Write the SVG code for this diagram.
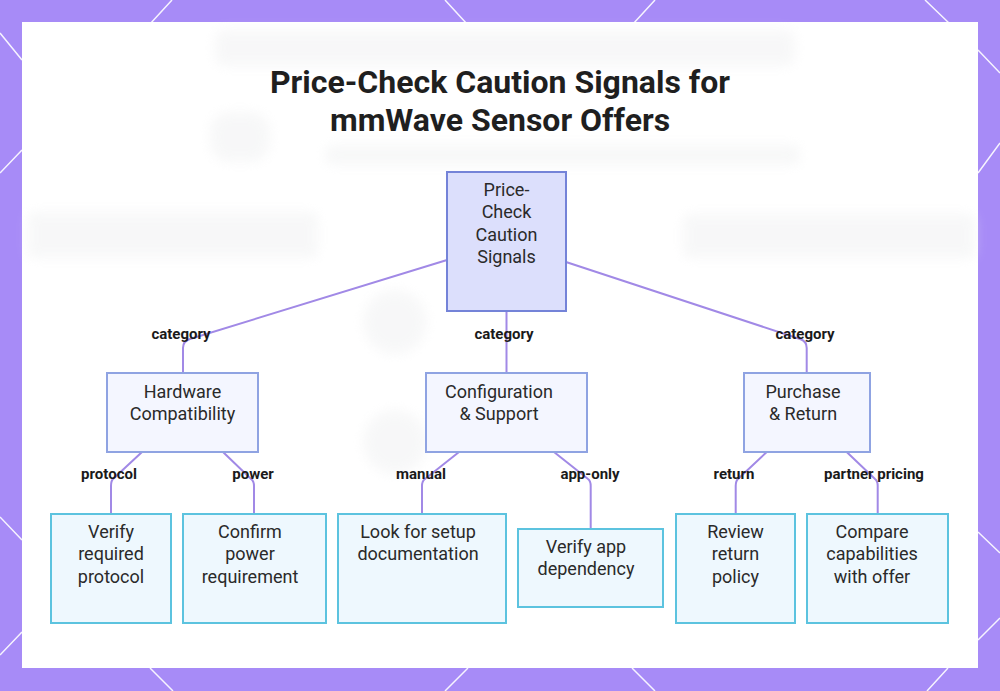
<svg xmlns="http://www.w3.org/2000/svg" width="1000" height="691" viewBox="0 0 1000 691">
<defs>
<style>
.bgline{stroke:#ffffff;stroke-width:1.5;fill:none;opacity:0.9}
.title{font-family:Roboto,"Liberation Sans",sans-serif;font-weight:700;font-size:32px;fill:#1f1f1f;text-anchor:middle}
.nt{font-family:Roboto,"Liberation Sans",sans-serif;font-size:18px;fill:#2a2a2a;text-anchor:middle}
.lbl{font-family:Roboto,"Liberation Sans",sans-serif;font-weight:700;font-size:15px;fill:#1a1a1a;text-anchor:middle}
.root{fill:#dcdffc;stroke:#7483d8;stroke-width:2}
.mid{fill:#f4f6ff;stroke:#8fa3e2;stroke-width:2}
.leaf{fill:#eef8fe;stroke:#5cc3df;stroke-width:2}
.edge{fill:none;stroke:#a189e6;stroke-width:2}
.blob{fill:#eeeff0}
</style>
<filter id="blur" x="-20%" y="-50%" width="140%" height="200%"><feGaussianBlur stdDeviation="6"/></filter>
</defs>
<rect x="0" y="0" width="1000" height="691" fill="#a78bf7"/>
<g id="bg-lines">
<path class="bgline" d="M172,0 L150,24 M445,0 L467,24 M655,0 L633,24 M925,0 L950,24"/>
<path class="bgline" d="M0,33 L22,60 M0,173 L22,150 M978,50 L1000,73 M978,173 L1000,143"/>
<path class="bgline" d="M0,517 L22,540 M0,655 L22,632 M978,532 L1000,553 M978,640 L1000,618"/>
<path class="bgline" d="M150,668 L173,691 M468,668 L445,691 M632,668 L655,691 M948,668 L927,691"/>
</g>
<rect x="22" y="22" width="956" height="646" fill="#ffffff"/>
<g id="backdrop" filter="url(#blur)" opacity="0.45">
<rect class="blob" x="215" y="30" width="580" height="36" rx="10"/>
<rect class="blob" x="210" y="112" width="60" height="50" rx="20"/>
<rect class="blob" x="325" y="145" width="475" height="20" rx="8"/>
<rect class="blob" x="28" y="212" width="290" height="46" rx="8"/>
<rect class="blob" x="683" y="214" width="292" height="44" rx="8"/>
<circle class="blob" cx="395" cy="322" r="32"/>
<circle class="blob" cx="395" cy="442" r="32"/>
</g>
<g id="title">
<text class="title" x="500" y="93">Price-Check Caution Signals for</text>
<text class="title" x="500" y="131">mmWave Sensor Offers</text>
</g>
<g id="connectors">
<path class="edge" d="M447,260 L190,339 Q183,341 183,348 L183,373"/>
<path class="edge" d="M506.5,311 L506.5,373"/>
<path class="edge" d="M566,262 L800,339 Q806.7,341 806.7,348 L806.7,373"/>
<path class="edge" d="M142,452 L113,479 Q111,481 111,486 L111,514"/>
<path class="edge" d="M223,452 L251,479 Q254,481 254,486 L254,514"/>
<path class="edge" d="M459,452 L425,479 Q422,481 422,486 L422,514"/>
<path class="edge" d="M554,452 L588,479 Q590.7,481 590.7,486 L590.7,529"/>
<path class="edge" d="M766.7,452 L738,479 Q735.7,481 735.7,486 L735.7,514"/>
<path class="edge" d="M846.7,452 L875,479 Q877.7,481 877.7,486 L877.7,514"/>
<g id="edge-labels">
<text class="lbl" x="181" y="339">category</text>
<text class="lbl" x="504" y="339">category</text>
<text class="lbl" x="805" y="339">category</text>
<text class="lbl" x="109" y="479">protocol</text>
<text class="lbl" x="253" y="479">power</text>
<text class="lbl" x="421" y="479">manual</text>
<text class="lbl" x="590" y="479">app-only</text>
<text class="lbl" x="734" y="479">return</text>
<text class="lbl" x="874" y="479">partner pricing</text>
</g>
</g>
<g id="node-root">
<rect class="root" x="447" y="172" width="119" height="139"/>
<text class="nt" x="506.5" y="196">Price-</text>
<text class="nt" x="506.5" y="218">Check</text>
<text class="nt" x="506.5" y="241">Caution</text>
<text class="nt" x="506.5" y="263">Signals</text>
</g>
<g id="node-hardware">
<rect class="mid" x="107" y="373" width="151" height="79"/>
<text class="nt" x="182.5" y="398">Hardware</text>
<text class="nt" x="182.5" y="420">Compatibility</text>
</g>
<g id="node-config">
<rect class="mid" x="426" y="373" width="161" height="79"/>
<text class="nt" x="499" y="398">Configuration</text>
<text class="nt" x="499" y="420">&amp; Support</text>
</g>
<g id="node-purchase">
<rect class="mid" x="744" y="373" width="126" height="79"/>
<text class="nt" x="803" y="398">Purchase</text>
<text class="nt" x="803" y="420">&amp; Return</text>
</g>
<g id="node-protocol">
<rect class="leaf" x="51" y="514" width="120" height="109"/>
<text class="nt" x="111" y="538">Verify</text>
<text class="nt" x="111" y="560">required</text>
<text class="nt" x="111" y="583">protocol</text>
</g>
<g id="node-power">
<rect class="leaf" x="183" y="514" width="143" height="109"/>
<text class="nt" x="250" y="538">Confirm</text>
<text class="nt" x="250" y="560">power</text>
<text class="nt" x="250" y="583">requirement</text>
</g>
<g id="node-manual">
<rect class="leaf" x="338" y="514" width="168" height="109"/>
<text class="nt" x="418" y="538">Look for setup</text>
<text class="nt" x="418" y="560">documentation</text>
</g>
<g id="node-app">
<rect class="leaf" x="518" y="529" width="145" height="78"/>
<text class="nt" x="586" y="553">Verify app</text>
<text class="nt" x="586" y="575">dependency</text>
</g>
<g id="node-return">
<rect class="leaf" x="676" y="514" width="119" height="109"/>
<text class="nt" x="735.5" y="538">Review</text>
<text class="nt" x="735.5" y="560">return</text>
<text class="nt" x="735.5" y="583">policy</text>
</g>
<g id="node-compare">
<rect class="leaf" x="807" y="514" width="141" height="109"/>
<text class="nt" x="872" y="538">Compare</text>
<text class="nt" x="872" y="560">capabilities</text>
<text class="nt" x="872" y="583">with offer</text>
</g>
</svg>
